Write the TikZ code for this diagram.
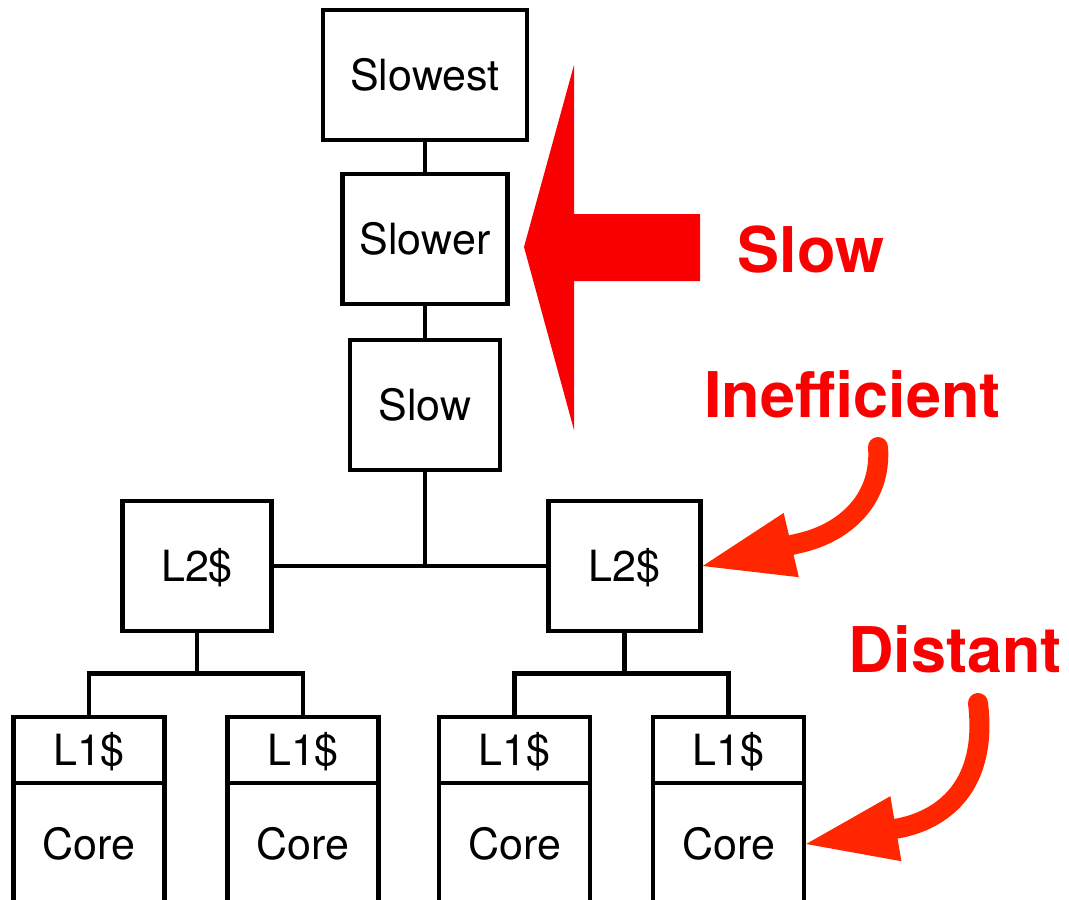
\documentclass[tikz,border=0pt]{standalone}
\usepackage{fontspec}
\setmainfont{TeX Gyre Heros}
\usetikzlibrary{arrows.meta}
\definecolor{alarm}{RGB}{250,0,0}
\definecolor{pointer}{RGB}{255,38,0}
\begin{document}
\begin{tikzpicture}[x=1pt,y=-1pt,
  unit/.style={draw=black,line width=4.4pt,inner sep=0pt,
    font=\fontsize{43}{50}\selectfont,text height=31pt,text depth=0pt},
  wire/.style={draw=black,line width=4.2pt},
  note/.style={text=alarm,font=\fontsize{63}{70}\selectfont\bfseries,inner sep=0pt,anchor=base},
  hookarrow/.style={draw=pointer,line width=20pt,line cap=round,
    -{Triangle[length=91pt,width=66pt,line width'=0pt]}}]
\useasboundingbox (0,0) rectangle (1069,900);

% memory hierarchy above the caches
\node[unit,minimum width=204pt,minimum height=130pt] (slowest) at (425,75) {Slowest};
\node[unit,minimum width=165pt,minimum height=130pt] (slower) at (425,239) {Slower};
\node[unit,minimum width=150pt,minimum height=130pt] (slow) at (425,405) {Slow};

% shared L2 caches
\node[unit,minimum width=149pt,minimum height=130pt] (l2a) at (197,566) {L2\$};
\node[unit,minimum width=152pt,minimum height=130pt] (l2b) at (624.5,566) {L2\$};

% L1 caches stacked on their cores
\foreach \n/\x in {a/89,b/303,c/514.5,d/728.5}{
  \node[unit,minimum width=151pt,minimum height=66pt] (l1\n) at (\x,750) {L1\$};
  \node[unit,minimum width=151pt,minimum height=122pt] (core\n) at (\x,844) {Core};
}

% interconnect
\coordinate (hub) at (425,566);
\coordinate (busA) at (197,673.5);
\coordinate (busB) at (624.5,673.5);
\draw[wire] (slowest.south) -- (slower.north);
\draw[wire] (slower.south) -- (slow.north);
\draw[wire] (slow.south) -- (hub);
\draw[wire] (l2a.east) -- (l2b.west);
\draw[wire] (l2a.south) -- (busA);
\draw[wire] (l2b.south) -- (busB);
\draw[wire] (l1a.north) |- (busA) -| (l1b.north);
\draw[wire] (l1c.north) |- (busB) -| (l1d.north);

% big block arrow towards the upper levels
\fill[alarm] (524,247) -- (574,65) -- (574,214) -- (700,214) -- (700,281)
  -- (574,281) -- (574,430) -- cycle;

% annotations
\node[note] (tslow) at (811,272) {Slow};
\node[note] (tineff) at (852.5,417) {Inefficient};
\node[note] (tdist) at (955,672) {Distant};

\coordinate (from1) at (878,447);
\coordinate (from2) at (978,703);
\draw[hookarrow] (from1) .. controls (882,500) and (844,533) .. (800,543) -- (l2b.east);
\draw[hookarrow] (from2) .. controls (988,785) and (944,819) .. (900,828) -- (cored.east);
\end{tikzpicture}
\end{document}
